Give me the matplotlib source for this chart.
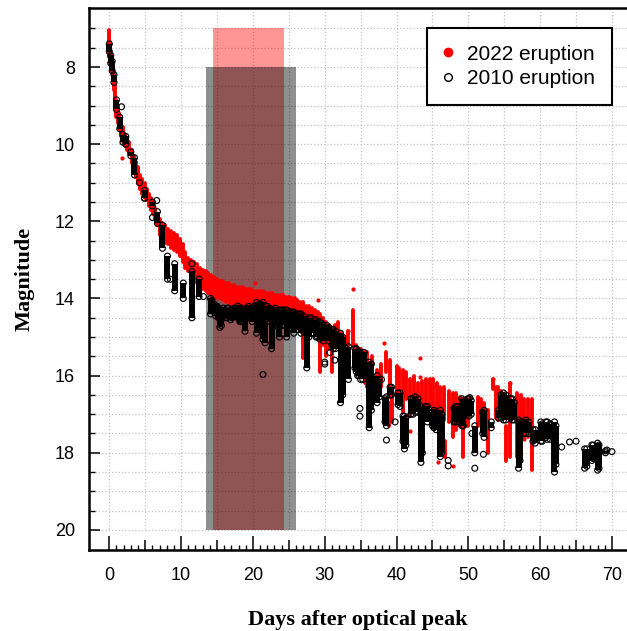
import matplotlib
matplotlib.use("Agg")
import matplotlib.pyplot as plt
from matplotlib.ticker import FixedLocator, FuncFormatter
from matplotlib.lines import Line2D

# --- 2022 eruption: nightly magnitude ranges (day, brightest, faintest) ---
# decline and plateau
day22 = [0.0, 0.15, 0.3, 0.45, 0.6, 0.8, 1.0, 1.2, 1.4, 1.6, 1.9, 2.2, 2.5, 2.8,
         3.1, 3.4, 3.7, 4.0, 4.3, 4.6, 4.9, 5.2, 5.5, 5.8, 6.1, 6.4, 6.7,
         7.0, 7.4, 7.8, 8.2, 8.6, 9.0, 9.4, 9.8, 10.2, 10.6, 11.0, 11.4, 11.8,
         12.2, 12.6, 13.0, 13.4, 13.8, 14.2, 14.6, 15.0, 15.4, 15.8, 16.2, 16.6,
         17.0, 17.4, 17.8, 18.2, 18.6, 19.0, 19.4, 19.8, 20.2, 20.6, 21.0, 21.4,
         21.8, 22.2, 22.6, 23.0, 23.4, 23.8, 24.2, 24.6, 25.0, 25.4, 25.8, 26.2,
         26.6, 27.0, 27.4, 27.8, 28.2, 28.6, 29.0, 29.4, 29.8, 30.2, 30.6, 31.0,
         31.4, 31.8, 32.2, 32.6, 33.0, 33.3, 33.9]
top22 = [7.05, 7.35, 7.65, 7.9, 8.15, 8.4, 8.85, 9.0, 9.2, 9.35, 9.55, 9.75, 9.85, 9.95,
         10.15, 10.3, 10.45, 10.6, 10.8, 10.9, 11.0, 11.15, 11.3, 11.4, 11.5, 11.65, 11.8,
         11.95, 12.05, 12.1, 12.2, 12.25, 12.3, 12.35, 12.45, 12.6, 12.8, 12.95, 13.0, 13.05,
         13.1, 13.2, 13.25, 13.3, 13.35, 13.4, 13.45, 13.5, 13.55, 13.55, 13.6, 13.6,
         13.65, 13.65, 13.7, 13.7, 13.7, 13.75, 13.75, 13.75, 13.8, 13.8, 13.8, 13.8,
         13.85, 13.85, 13.85, 13.9, 13.9, 13.9, 13.9, 13.95, 13.95, 14.0, 14.0, 14.05,
         14.1, 14.1, 14.2, 14.2, 14.25, 14.3, 14.35, 14.4, 14.5, 14.6, 14.7, 14.8,
         14.7, 14.6, 14.9, 15.0, 15.0, 14.85, 14.3]
bot22 = [7.75, 7.9, 8.1, 8.3, 8.6, 8.95, 9.3, 9.45, 9.6, 9.8, 9.95, 10.05, 10.15, 10.25,
         10.5, 10.7, 10.85, 11.0, 11.15, 11.3, 11.4, 11.45, 11.6, 11.7, 11.8, 11.95, 12.1,
         12.35, 12.45, 12.55, 12.6, 12.7, 12.75, 12.8, 12.9, 13.05, 13.2, 13.3, 13.4, 13.5,
         13.6, 13.7, 13.75, 13.8, 13.85, 13.9, 13.95, 14.0, 14.0, 14.05, 14.1, 14.1,
         14.15, 14.15, 14.2, 14.2, 14.25, 14.25, 14.25, 14.3, 14.3, 14.3, 14.35, 14.35,
         14.35, 14.4, 14.4, 14.4, 14.45, 14.45, 14.5, 14.5, 14.55, 14.55, 14.6, 14.6,
         14.65, 15.55, 14.7, 14.75, 14.8, 14.85, 14.9, 15.9, 15.2, 15.5, 15.3, 15.9,
         15.2, 15.25, 15.65, 15.5, 15.6, 15.3, 15.2]
# late decline
day22_late = [34.3, 34.6, 35.0, 35.6, 35.9, 36.6, 37.3, 37.8, 38.5, 38.9, 39.1, 39.4, 40.0,
              40.4, 40.9, 41.3, 41.9, 42.4, 43.0, 43.6, 44.1, 44.6, 45.1, 45.6, 46.1, 46.6,
              46.8, 47.3, 47.8, 48.3, 48.8, 49.2, 49.7, 50.0, 51.3, 51.8, 52.2, 52.7, 53.5,
              53.8, 54.2, 54.6, 55.3, 55.8, 56.8, 57.3, 57.8, 58.3, 58.8]
top22_late = [15.2, 15.3, 15.3, 15.4, 15.4, 15.5, 15.85, 15.7, 15.4, 16.7, 15.6, 16.5, 15.75,
              15.8, 15.85, 15.9, 16.1, 16.0, 16.2, 16.15, 16.1, 16.1, 16.1, 16.2, 16.3, 16.3,
              17.7, 16.4, 16.45, 16.45, 16.55, 16.6, 16.6, 16.6, 16.55, 16.6, 16.7, 16.9, 16.1,
              16.3, 16.3, 16.4, 17.3, 16.2, 16.45, 16.5, 16.6, 16.6, 16.6]
bot22_late = [15.8, 15.9, 16.0, 16.2, 16.3, 16.1, 16.35, 16.3, 15.9, 17.3, 16.5, 17.2, 16.7,
              16.6, 16.95, 16.6, 17.05, 16.8, 16.9, 16.9, 16.9, 16.8, 16.9, 16.9, 16.9, 17.15,
              18.1, 17.2, 17.6, 17.4, 17.3, 18.1, 17.3, 17.3, 17.3, 17.2, 17.4, 18.0, 16.35,
              17.1, 17.15, 17.0, 18.2, 18.1, 18.1, 17.6, 17.65, 17.6, 18.45]
# isolated 2022 points
day22_pt = [1.7, 20.3, 27.4, 28.0, 29.1, 33.3, 34.0, 38.2, 41.9, 43.3, 43.3, 45.8, 47.9, 53.5, 55.8, 57.7]
mag22_pt = [10.35, 13.6, 14.3, 14.3, 14.03, 14.85, 13.76, 15.15, 17.43, 15.53, 16.04, 18.24, 18.33, 16.1, 16.2, 17.64]

# --- 2010 eruption: nightly magnitude ranges ---
day10 = [0.0, 0.2, 0.4, 0.65, 1.0, 1.45, 1.9, 2.3, 3.0, 3.5, 4.9, 6.0, 6.7, 7.4, 8.1,
         9.1, 10.3, 11.5, 12.5, 14.1, 14.3, 14.6, 14.8, 15.0, 15.2, 15.4, 15.6, 15.9, 16.1,
         16.4, 16.6, 16.9, 17.1, 17.4, 17.6, 17.9, 18.1, 18.4, 18.6, 18.9, 19.1, 19.4, 19.6,
         19.9, 20.2, 20.5, 20.8, 21.1, 21.4, 21.7, 22.0, 22.3, 22.6, 22.9, 23.1, 23.4, 23.7,
         24.0, 24.2, 24.5, 24.7, 25.0, 25.2, 25.5, 25.7, 26.0, 26.2, 26.5, 26.7, 27.0, 27.5,
         27.8, 28.1, 28.4, 28.8, 29.0, 29.3, 29.6, 29.8, 30.3, 30.6, 31.0, 31.2, 31.5]
top10 = [7.4, 7.7, 7.85, 8.2, 8.85, 9.3, 9.75, 9.8, 10.2, 10.35, 11.2, 11.5, 11.75, 12.1, 12.9,
         13.1, 13.6, 13.3, 13.5, 14.0, 14.05, 14.15, 14.2, 14.2, 14.25, 14.3, 14.3, 14.25, 14.3,
         14.25, 14.25, 14.3, 14.3, 14.25, 14.25, 14.2, 14.25, 14.25, 14.3, 14.3, 14.25, 14.2, 14.25,
         14.25, 14.2, 14.1, 14.15, 14.15, 14.1, 14.2, 14.2, 14.25, 14.3, 14.3, 14.25, 14.3, 14.3,
         14.3, 14.3, 14.3, 14.3, 14.35, 14.35, 14.35, 14.35, 14.4, 14.4, 14.4, 14.4, 14.45, 14.55,
         14.5, 14.5, 14.55, 14.55, 14.6, 14.6, 14.65, 14.7, 14.7, 14.75, 14.8, 14.8, 14.85]
bot10 = [7.6, 7.9, 8.1, 8.4, 9.1, 9.6, 9.95, 10.0, 10.3, 10.8, 11.4, 11.6, 12.05, 12.7, 13.5,
         13.8, 14.0, 14.5, 13.95, 14.4, 14.3, 14.35, 14.45, 14.35, 14.5, 14.75, 14.7, 14.45, 14.5,
         14.5, 14.45, 14.55, 14.5, 14.45, 14.45, 14.5, 14.55, 14.6, 14.6, 14.85, 14.5, 14.5, 14.45,
         14.6, 14.5, 14.9, 14.6, 14.7, 15.06, 15.15, 14.6, 14.6, 15.3, 14.7, 14.7, 14.65, 15.0,
         14.6, 14.7, 14.7, 15.0, 14.7, 14.75, 14.8, 14.9, 14.7, 14.8, 14.75, 14.9, 14.85, 15.8,
         15.0, 14.9, 14.9, 15.0, 15.0, 15.05, 15.0, 15.1, 15.0, 15.1, 15.2, 15.3, 15.3]
day10_late = [32.2, 32.5, 33.0, 33.3, 34.2, 34.4, 34.6, 34.8, 35.0, 35.3, 35.5, 36.2, 36.5,
              37.3, 37.6, 38.4, 38.6, 39.1, 39.3, 40.2, 40.5, 40.9, 41.1, 41.3, 42.0, 42.3,
              42.6, 43.0, 43.4, 43.6, 44.0, 44.3, 45.0, 45.2, 45.5, 46.1, 46.3, 48.0, 48.2,
              48.5, 49.1, 49.3, 49.9, 50.1, 50.4, 50.9, 52.0, 52.2, 53.2, 54.2, 54.6, 54.9,
              55.2, 55.9, 56.1, 56.4, 57.0, 57.2, 57.7, 58.0, 58.4, 59.0, 59.3, 60.1, 60.3,
              60.8, 61.0, 61.4, 62.0, 62.2, 66.2, 66.5, 67.2, 67.4, 68.0, 68.2, 69.1]
top10_late = [14.9, 15.0, 15.3, 15.25, 15.3, 15.3, 15.35, 15.4, 15.4, 15.5, 15.4, 15.65, 15.7,
              16.0, 16.1, 16.6, 16.55, 16.3, 16.3, 16.45, 16.45, 17.05, 17.05, 17.1, 16.6, 16.6,
              16.55, 16.6, 16.8, 16.9, 16.8, 16.8, 16.95, 16.9, 16.95, 16.9, 17.0, 16.85, 16.8,
              16.8, 16.6, 16.65, 16.6, 16.6, 16.65, 17.3, 16.95, 16.9, 17.2, 16.9, 16.5, 16.45,
              16.5, 16.6, 16.6, 16.7, 17.15, 17.2, 17.2, 17.15, 17.2, 17.4, 17.4, 17.2, 17.25,
              17.2, 17.2, 17.25, 17.2, 17.3, 17.9, 17.9, 17.8, 17.8, 17.75, 17.8, 17.95]
bot10_late = [16.7, 16.5, 15.9, 16.1, 15.8, 15.9, 16.0, 16.0, 16.1, 16.1, 15.9, 17.35, 16.9,
              16.7, 16.55, 17.2, 17.3, 16.5, 16.5, 16.75, 16.8, 17.7, 17.9, 17.8, 17.0, 17.0,
              16.95, 16.95, 18.25, 18.0, 17.1, 17.2, 17.3, 17.35, 17.4, 18.1, 18.0, 17.2, 17.2,
              17.2, 17.3, 17.3, 17.0, 17.05, 17.0, 18.0, 17.5, 17.6, 17.35, 17.1, 17.1, 17.15,
              17.15, 17.1, 17.15, 17.15, 18.4, 18.2, 17.5, 17.5, 17.5, 17.7, 17.75, 17.7, 17.7,
              17.6, 17.65, 17.65, 18.5, 18.3, 18.4, 18.35, 18.2, 18.15, 18.45, 18.4, 18.0]
# isolated 2010 points
day10_pt = [1.7, 4.2, 4.9, 6.0, 6.6, 8.5, 11.5, 13.1, 18.2, 21.4, 30.0, 30.0, 30.7, 31.4,
            34.9, 34.9, 37.9, 38.6, 39.8, 47.2, 47.2, 50.2, 50.5, 50.9, 52.1, 63.0, 64.1,
            65.0, 69.3, 70.0]
mag10_pt = [9.03, 11.0, 11.4, 11.9, 11.46, 13.5, 13.1, 13.95, 14.6, 15.97, 15.65, 15.7, 15.4, 15.6,
            16.85, 17.05, 16.1, 17.67, 17.2, 18.34, 18.2, 16.57, 17.5, 18.4, 18.04, 17.85, 17.72,
            17.7, 17.93, 17.97]

# observing windows (day start, day end, magnitude top, magnitude bottom)
win_2022 = [14.4, 24.3, 7.0, 20.0]
win_2010 = [13.4, 26.0, 8.0, 20.0]

fig = plt.figure(figsize=(6.27, 6.31), dpi=100)
ax = fig.add_axes([89 / 627, (631 - 550) / 631, (627 - 89) / 627, (550 - 8) / 631])
ax.set_xlim(-2.83, 72.1)
ax.set_ylim(20.52, 6.47)

# dotted grid, limited to the labelled range
ax.vlines(range(0, 71, 5), 6.47, 20.0, colors="#c4c4c4", linestyles=":", lw=0.9, zorder=0)
ax.hlines([7 + 0.5 * i for i in range(27)], -2.0, 72.1, colors="#c4c4c4",
          linestyles=":", lw=0.9, zorder=0)

# shaded windows
ax.fill_between(win_2022[:2], win_2022[2], win_2022[3], color=(1, 0, 0, 0.41), lw=0, zorder=1)
ax.fill_between(win_2010[:2], win_2010[2], win_2010[3], color=(0, 0, 0, 0.44), lw=0, zorder=1)

# 2022 eruption
for d, t, b in [(day22, top22, bot22), (day22_late, top22_late, bot22_late)]:
    lc = ax.vlines(d, t, b, colors="red", lw=2.8, zorder=3)
    lc.set_capstyle("round")
ax.scatter(day22_pt, mag22_pt, s=9, c="red", lw=0, zorder=3)

# 2010 eruption
all_d10 = day10 + day10_late
all_t10 = top10 + top10_late
all_b10 = bot10 + bot10_late
ax.vlines(all_d10, all_t10, all_b10, colors="black", lw=4.3, zorder=4)
ax.scatter(all_d10 + all_d10 + day10_pt, all_t10 + all_b10 + mag10_pt, s=18,
           facecolors="none", edgecolors="black", lw=0.85, zorder=5)

# axes styling
for side in ["left", "bottom", "top"]:
    ax.spines[side].set_linewidth(1.8)
ax.spines["right"].set_visible(False)

ax.xaxis.set_major_locator(FixedLocator(range(0, 71, 5)))
ax.xaxis.set_minor_locator(FixedLocator(range(0, 71)))
ax.xaxis.set_major_formatter(FuncFormatter(lambda v, p: "%d" % v if v % 10 == 0 else ""))
ax.yaxis.set_major_locator(FixedLocator(range(8, 21, 2)))
ax.yaxis.set_minor_locator(FixedLocator([7 + 0.5 * i for i in range(27)]))

ax.tick_params(axis="x", which="major", direction="in", length=10, width=1.1,
               top=False, pad=12, labelsize=13)
ax.tick_params(axis="x", which="minor", direction="in", length=3.6, width=1.0, top=False)
ax.tick_params(axis="y", which="major", direction="in", length=7.7, width=1.1,
               right=False, pad=10, labelsize=13)
ax.tick_params(axis="y", which="minor", direction="in", length=4.3, width=1.0, right=False)
for lab in ax.get_xticklabels() + ax.get_yticklabels():
    lab.set_family("Liberation Sans")

xt = ax.get_xticks()
for tk, v in zip(ax.xaxis.get_major_ticks(len(xt)), xt):
    if v % 10 != 0:
        tk.tick1line.set_markersize(7.2)

ax.set_xlabel("Days after optical peak", family="Liberation Serif", weight="bold",
              fontsize=16, labelpad=19)
ax.set_ylabel("Magnitude", family="Liberation Serif", weight="bold",
              fontsize=16, labelpad=15)

handles = [Line2D([], [], ls="", marker="o", ms=6, mfc="red", mec="red"),
           Line2D([], [], ls="", marker="o", ms=5.5, mfc="none", mec="black", mew=1.0)]
leg = ax.legend(handles, ["2022 eruption", "2010 eruption"], loc="upper right",
                bbox_to_anchor=(611.7 / 627, 1 - 28 / 631), bbox_transform=fig.transFigure,
                borderaxespad=0, fancybox=False, framealpha=1, edgecolor="black",
                prop={"family": "Liberation Sans", "size": 15}, handlelength=0.4,
                handletextpad=0.7, labelspacing=0.25, borderpad=0.8)
leg.get_frame().set_linewidth(1.5)
leg.set_zorder(10)

fig.savefig("out.png", dpi=100)
